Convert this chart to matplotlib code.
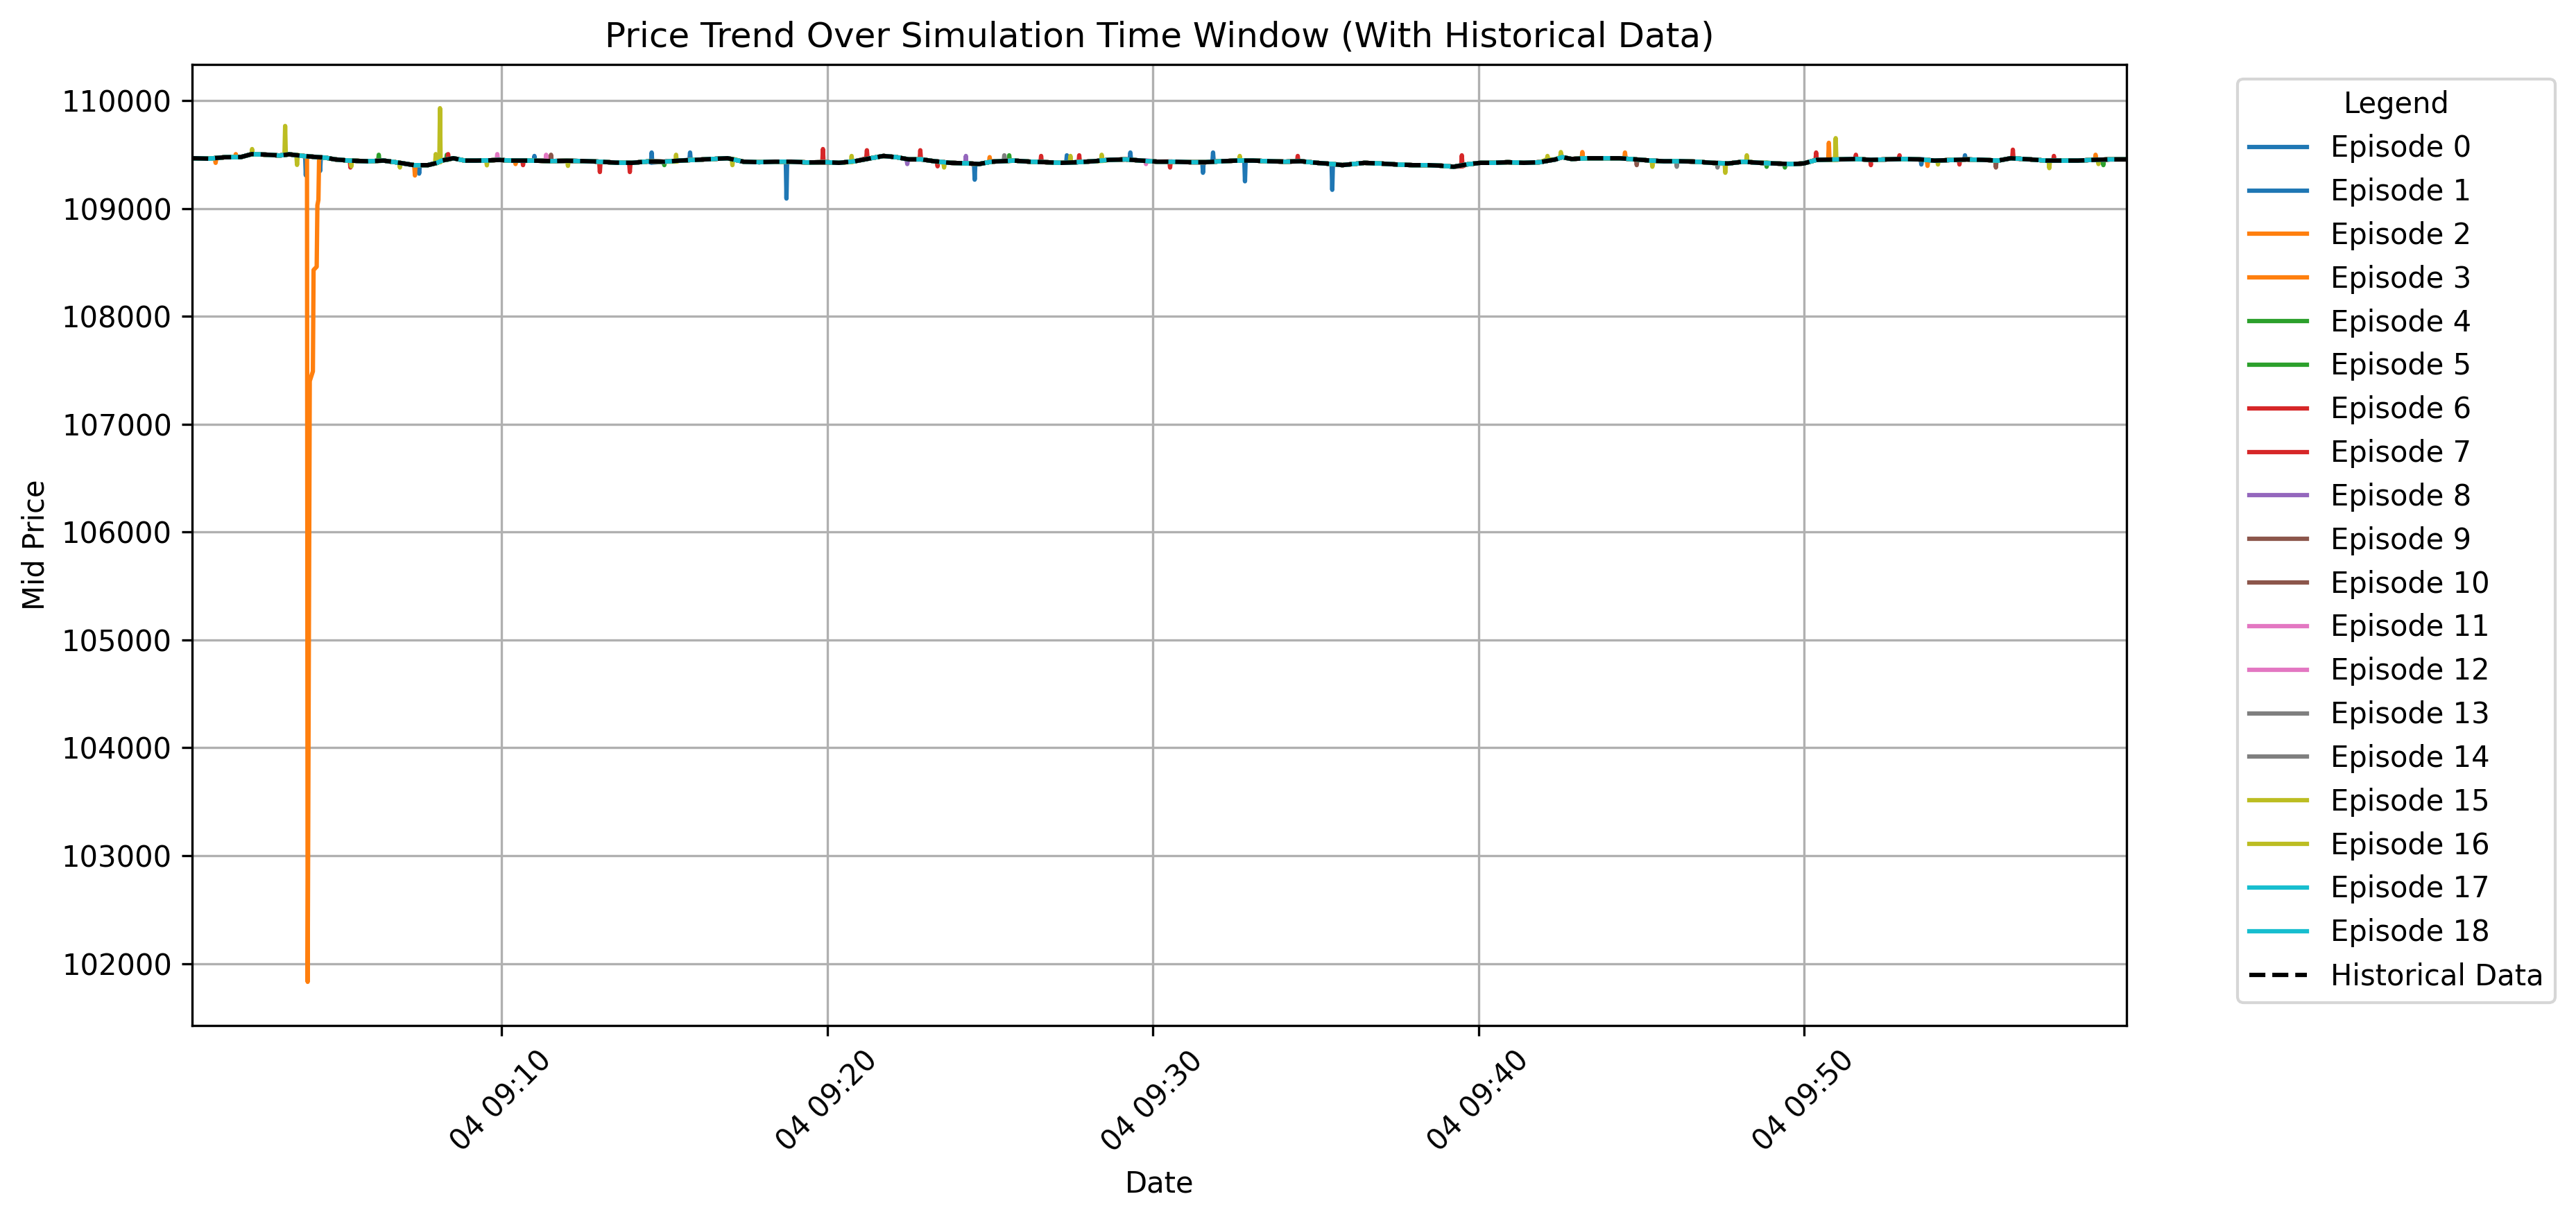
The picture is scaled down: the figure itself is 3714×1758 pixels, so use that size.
import numpy as np
import pandas as pd
import matplotlib
matplotlib.use('Agg')
import matplotlib.pyplot as plt
import matplotlib.dates as mdates

start = pd.Timestamp('2025-07-04 09:00:00')

# Historical mid price (minutes after 09:00, price)
hist_min = [0.50, 1.00, 1.50, 2.00, 2.33, 2.84, 3.18, 3.48, 3.90, 4.33, 4.61, 4.89, 5.31, 5.89, 6.38,
            6.88, 7.31, 7.74, 8.02, 8.16, 8.52, 8.87, 9.23, 9.58, 9.94, 10.29, 10.86, 11.50, 12.00,
            12.50, 13.00, 13.50, 14.00, 14.50, 15.00, 15.47, 15.96, 16.94, 17.43, 17.91, 18.40, 18.89,
            19.38, 20.00, 20.36, 20.85, 21.34, 21.73, 22.12, 22.51, 22.90, 23.29, 23.78, 24.27, 24.66,
            25.05, 25.73, 26.22, 26.71, 27.20, 27.69, 28.18, 28.67, 29.16, 29.64, 30.13, 30.64, 31.13,
            31.62, 32.10, 32.60, 33.08, 33.57, 34.06, 34.55, 35.04, 35.53, 35.82, 36.50, 36.99, 37.48,
            37.97, 38.46, 38.95, 39.24, 39.63, 40.05, 40.42, 40.90, 41.39, 41.88, 42.37, 42.57, 42.86,
            43.35, 43.84, 44.33, 44.81, 45.30, 45.70, 46.19, 46.68, 47.17, 47.66, 48.14, 48.63, 49.12,
            49.61, 49.98, 50.39, 51.08, 51.57, 52.05, 52.54, 53.03, 53.52, 54.01, 54.50, 54.99, 55.48,
            55.96, 56.35, 56.94, 57.43, 57.92, 58.41, 58.90, 59.39, 59.90]
hist_price = [109466, 109462, 109475, 109477, 109504, 109498, 109491, 109502, 109487, 109477, 109470,
              109455, 109444, 109438, 109444, 109423, 109402, 109402, 109423, 109444, 109466, 109444,
              109444, 109446, 109450, 109444, 109444, 109440, 109442, 109440, 109434, 109425, 109423,
              109436, 109434, 109444, 109451, 109466, 109434, 109429, 109434, 109434, 109427, 109429,
              109423, 109438, 109466, 109487, 109476, 109455, 109455, 109438, 109423, 109419, 109412,
              109434, 109444, 109434, 109429, 109423, 109429, 109438, 109451, 109455, 109444, 109434,
              109434, 109429, 109429, 109438, 109444, 109444, 109438, 109434, 109438, 109423, 109412,
              109402, 109423, 109417, 109408, 109402, 109402, 109395, 109387, 109408, 109423, 109423,
              109429, 109423, 109429, 109455, 109476, 109459, 109466, 109466, 109466, 109455, 109444,
              109438, 109438, 109434, 109423, 109417, 109434, 109423, 109417, 109412, 109417, 109451,
              109455, 109459, 109451, 109455, 109459, 109455, 109444, 109449, 109455, 109451, 109444,
              109466, 109455, 109444, 109444, 109444, 109451, 109455, 109455]

# Episode 2 crash excursion (minutes, price)
ep2_crash_min = [4.026, 4.047, 4.111, 4.207, 4.228, 4.324, 4.345, 4.377, 4.398]
ep2_crash_price = [109482, 101830, 107400, 107490, 108430, 108460, 109030, 109080, 109472]

# Episode spikes: (minute, spike price, surrounding price)
ep0_spikes = [(3.99, 109307, 109487), (7.47, 109323, 109402), (18.75, 109092, 109434),
              (29.31, 109519, 109455), (32.83, 109252, 109444), (53.60, 109408, 109457)]
ep1_spikes = [(4.43, 109348, 109477), (11.01, 109487, 109444), (14.61, 109519, 109425),
              (15.79, 109519, 109451), (24.53, 109267, 109414), (27.36, 109493, 109425),
              (31.54, 109331, 109429), (31.85, 109519, 109432), (35.51, 109173, 109412),
              (54.94, 109493, 109453)]
ep2_spikes = [(1.22, 109423, 109464), (24.99, 109476, 109430), (43.19, 109523, 109466)]
ep3_spikes = [(1.84, 109504, 109476), (7.34, 109306, 109402), (10.43, 109412, 109446),
              (44.50, 109519, 109462), (50.76, 109609, 109451), (53.79, 109395, 109449),
              (58.95, 109498, 109451)]
ep4_spikes = [(6.23, 109498, 109440), (15.00, 109402, 109434), (48.85, 109387, 109425)]
ep5_spikes = [(8.32, 109498, 109450), (25.59, 109493, 109440), (49.41, 109380, 109415),
              (59.19, 109402, 109453)]
ep6_spikes = [(5.36, 109380, 109444), (10.66, 109402, 109446), (13.94, 109338, 109423),
              (21.22, 109540, 109466), (26.57, 109487, 109429), (30.53, 109380, 109436),
              (39.49, 109493, 109390), (51.59, 109498, 109459), (54.77, 109408, 109451),
              (57.67, 109487, 109444)]
ep7_spikes = [(8.36, 109504, 109455), (13.02, 109338, 109434), (19.87, 109551, 109425),
              (22.86, 109540, 109455), (23.39, 109391, 109436), (27.74, 109493, 109429),
              (34.45, 109487, 109436), (50.37, 109519, 109451), (52.05, 109402, 109451),
              (52.93, 109493, 109457), (56.41, 109545, 109462)]
ep8_spikes = [(22.46, 109412, 109455), (24.26, 109487, 109419)]
ep9_spikes = [(11.52, 109498, 109440), (55.89, 109380, 109446)]
ep10_spikes = [(44.86, 109402, 109453)]
ep11_spikes = [(9.87, 109504, 109450), (29.79, 109412, 109446)]
ep12_spikes = [(11.37, 109498, 109442)]
ep13_spikes = [(25.44, 109493, 109440), (46.09, 109387, 109438)]
ep14_spikes = [(47.34, 109380, 109425)]
ep15_spikes = [(2.34, 109551, 109502), (3.355, 109765, 109498), (5.39, 109391, 109444),
               (7.98, 109504, 109418), (12.04, 109395, 109442), (17.09, 109402, 109460),
               (23.59, 109380, 109425), (28.43, 109498, 109440), (42.12, 109487, 109455),
               (45.34, 109387, 109440), (48.24, 109493, 109434), (54.11, 109408, 109446),
               (59.04, 109412, 109453)]
ep16_spikes = [(3.72, 109404, 109496), (6.88, 109380, 109423), (8.11, 109930, 109430),
               (9.55, 109400, 109446), (15.36, 109498, 109434), (20.75, 109487, 109430),
               (27.47, 109487, 109427), (32.67, 109487, 109444), (42.53, 109523, 109476),
               (47.58, 109331, 109417), (50.97, 109652, 109451), (57.53, 109374, 109444)]
ep17_spikes = []
ep18_spikes = []

episode_spikes = [ep0_spikes, ep1_spikes, ep2_spikes, ep3_spikes, ep4_spikes, ep5_spikes,
                  ep6_spikes, ep7_spikes, ep8_spikes, ep9_spikes, ep10_spikes, ep11_spikes,
                  ep12_spikes, ep13_spikes, ep14_spikes, ep15_spikes, ep16_spikes, ep17_spikes,
                  ep18_spikes]
n_episodes = len(episode_spikes)
colors = plt.cm.tab10(np.linspace(0, 1, n_episodes))


def to_time(minutes):
    return start + pd.to_timedelta(np.asarray(minutes, dtype=float), unit='min')


fig = plt.figure(figsize=(3714 / 300, 1758 / 300), dpi=300)
ax = fig.add_axes([0.0746, 0.1587, 0.7509, 0.7884])

half_w = 0.02
for i in range(n_episodes):
    pts = list(zip(hist_min, hist_price))
    if i == 2:
        pts = [p for p in pts if not (ep2_crash_min[0] <= p[0] <= ep2_crash_min[-1])]
        pts += list(zip(ep2_crash_min, ep2_crash_price))
    for t, pk, b in episode_spikes[i]:
        pts += [(t - half_w, b), (t, pk), (t + half_w, b)]
    pts.sort()
    m, v = zip(*pts)
    ax.plot(to_time(m), v, color=colors[i], label=f'Episode {i}')

hist_t = to_time(hist_min)
ax.plot(hist_t, hist_price, linestyle='--', color='black', label='Historical Data')

ax.set_xlim(hist_t[0], hist_t[-1])
ax.xaxis.set_major_locator(mdates.MinuteLocator(byminute=range(0, 60, 10)))
ax.xaxis.set_major_formatter(mdates.DateFormatter('%d %H:%M'))
plt.setp(ax.get_xticklabels(), rotation=45)

ax.set_title('Price Trend Over Simulation Time Window (With Historical Data)')
ax.set_xlabel('Date')
ax.set_ylabel('Mid Price')
ax.grid(True)
ax.legend(title='Legend', loc='upper left', bbox_to_anchor=(1.05, 1))

fig.savefig('out.png', dpi=300)
